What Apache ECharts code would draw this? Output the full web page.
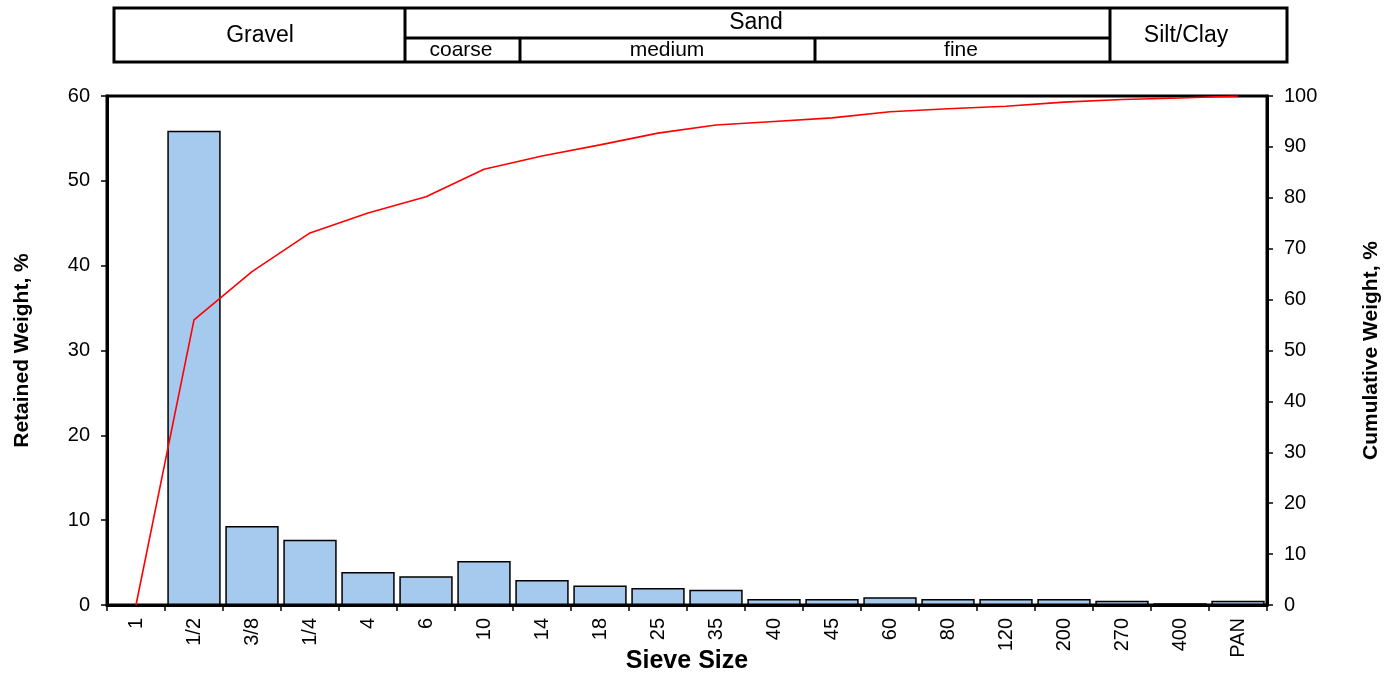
<!DOCTYPE html>
<html>
<head>
<meta charset="utf-8">
<script src="https://cdn.jsdelivr.net/npm/echarts@6/dist/echarts.min.js"></script>
<style>
html,body{margin:0;padding:0;background:#fff;}
#chart{width:1392px;height:677px;}
</style>
</head>
<body>
<div id="chart"></div>
<script>
// Sieve sizes (categories)
const sieveSizes = ['1','1/2','3/8','1/4','4','6','10','14','18','25','35','40','45','60','80','120','200','270','400','PAN'];
// Retained weight, % (bars, left axis)
const retainedWeight = [0, 55.9, 9.3, 7.7, 3.9, 3.4, 5.2, 2.95, 2.3, 2.0, 1.8, 0.7, 0.7, 0.9, 0.7, 0.7, 0.7, 0.5, 0.2, 0.5];
// Cumulative weight, % (line, right axis)
const cumulativeWeight = [0, 56.0, 65.5, 73.1, 77.0, 80.2, 85.6, 88.2, 90.4, 92.7, 94.3, 95.0, 95.7, 96.9, 97.5, 98.0, 98.8, 99.3, 99.6, 100];
// Header classification labels
const headerMain = ['Gravel', 'Sand', 'Silt/Clay'];
const headerSand = ['coarse', 'medium', 'fine'];

const FONT = 'Liberation Sans, Arial, sans-serif';
const chart = echarts.init(document.getElementById('chart'), null, {renderer: 'canvas'});

function line(x1, y1, x2, y2, w) {
  return {type: 'line', shape: {x1, y1, x2, y2}, style: {stroke: '#000', lineWidth: w || 3}, silent: true};
}
function txt(x, y, s, size) {
  return {type: 'text', x, y, style: {text: s, fontFamily: FONT, fontSize: size, fill: '#000', align: 'center', verticalAlign: 'middle'}, silent: true};
}

const graphics = [
  {type: 'rect', shape: {x: 114, y: 8, width: 1173, height: 54}, style: {fill: '#fff', stroke: '#000', lineWidth: 3}, silent: true},
  line(405, 8, 405, 62),
  line(1110, 8, 1110, 62),
  line(405, 38, 1110, 38),
  line(520, 38, 520, 62),
  line(815, 38, 815, 62),
  txt(260, 36, headerMain[0], 23),
  txt(756, 23, headerMain[1], 23),
  txt(1186, 36, headerMain[2], 23),
  txt(461, 50, headerSand[0], 21),
  txt(667, 50, headerSand[1], 21),
  txt(961, 50, headerSand[2], 21)
];

const option = {
  animation: false,
  backgroundColor: '#fff',
  textStyle: {fontFamily: FONT},
  grid: {left: 107, right: 125, top: 96, bottom: 72, containLabel: false, outerBoundsMode: 'none', show: true, borderColor: '#000', borderWidth: 3, backgroundColor: 'transparent'},
  graphic: graphics,
  xAxis: {
    type: 'category',
    data: sieveSizes,
    boundaryGap: true,
    name: 'Sieve Size',
    nameLocation: 'middle',
    nameGap: 44,
    nameMoveOverlap: false,
    nameTextStyle: {fontFamily: FONT, fontSize: 25, fontWeight: 'bold', color: '#000'},
    axisLine: {lineStyle: {color: '#000', width: 3}},
    axisTick: {show: true, interval: 0, length: 6, lineStyle: {color: '#000', width: 1.5}},
    axisLabel: {interval: 0, rotate: 90, margin: 13, fontFamily: FONT, fontSize: 20, color: '#000'},
    splitLine: {show: false}
  },
  yAxis: [
    {
      type: 'value', min: 0, max: 60, interval: 10, position: 'left',
      name: 'Retained Weight, %', nameLocation: 'middle', nameRotate: 90, nameGap: 74, nameMoveOverlap: false,
      nameTextStyle: {fontFamily: FONT, fontSize: 21, fontWeight: 'bold', color: '#000'},
      axisLine: {show: true, lineStyle: {color: '#000', width: 3}},
      axisTick: {show: true, length: 6, lineStyle: {color: '#000', width: 1.5}},
      axisLabel: {margin: 17, fontFamily: FONT, fontSize: 20, color: '#000'},
      splitLine: {show: false}
    },
    {
      type: 'value', min: 0, max: 100, interval: 10, position: 'right',
      name: 'Cumulative Weight, %', nameLocation: 'middle', nameRotate: 90, nameGap: 94, nameMoveOverlap: false,
      nameTextStyle: {fontFamily: FONT, fontSize: 21, fontWeight: 'bold', color: '#000'},
      axisLine: {show: true, lineStyle: {color: '#000', width: 3}},
      axisTick: {show: true, length: 6, lineStyle: {color: '#000', width: 1.5}},
      axisLabel: {margin: 17, fontFamily: FONT, fontSize: 20, color: '#000'},
      splitLine: {show: false}
    }
  ],
  series: [
    {
      name: 'Retained Weight',
      type: 'bar',
      yAxisIndex: 0,
      data: retainedWeight,
      barCategoryGap: '8%',
      itemStyle: {color: '#A6C9EE', borderColor: '#000', borderWidth: 1.5}
    },
    {
      name: 'Cumulative Weight',
      type: 'line',
      yAxisIndex: 1,
      data: cumulativeWeight,
      symbol: 'none',
      lineStyle: {color: '#FF0000', width: 1.6}
    }
  ]
};
chart.setOption(option);
</script>
</body>
</html>
